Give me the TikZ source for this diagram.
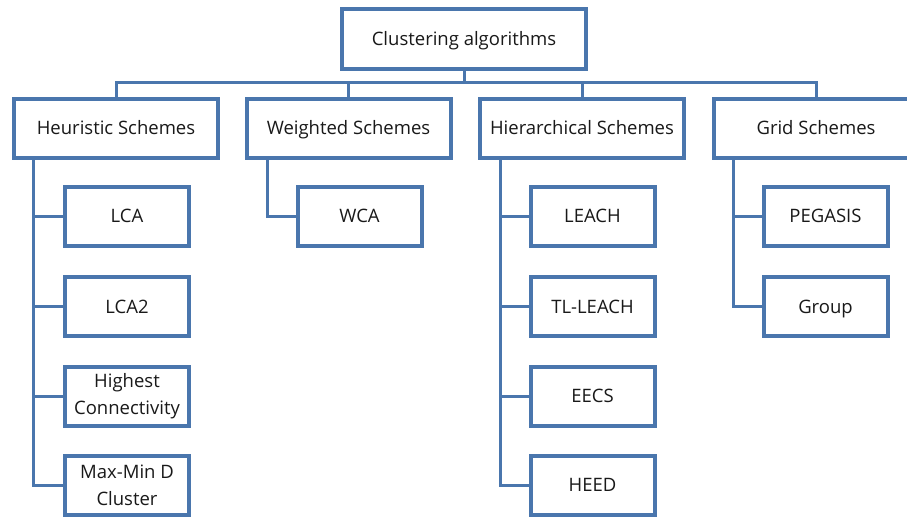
\documentclass[tikz,border=0pt]{standalone}
\usepackage{fontspec}
\setmainfont{Open Sans}
\usetikzlibrary{shadows}
\definecolor{boxblue}{HTML}{4A76AD}
\begin{document}
\begin{tikzpicture}[x=1pt,y=-1pt,
  box/.style={draw=boxblue, line width=4pt, fill=white, align=center,
    font=\fontsize{18.5}{27}\selectfont, inner sep=0pt, text=black!90,
    drop shadow={shadow xshift=1.5pt, shadow yshift=-2pt, opacity=0.25}},
  oneline/.style={text height=13.5pt, text depth=1pt},
  rootbox/.style={box, oneline, minimum width=244pt, minimum height=60pt},
  catbox/.style={box, oneline, minimum width=204pt, minimum height=59pt},
  leafbox/.style={box, minimum width=124pt, minimum height=59pt},
  conn/.style={draw=boxblue, line width=3pt}]
\useasboundingbox (0,0) rectangle (907,518);
\fill[white] (0,0) rectangle (907,518);
\node[rootbox] (root) at (464,39) {Clustering algorithms};
\node[catbox] (heur) at (116,128.5) {Heuristic Schemes};
\node[catbox] (weig) at (348.5,128.5) {Weighted Schemes};
\node[catbox] (hier) at (582,128.5) {Hierarchical Schemes};
\node[catbox] (grid) at (816,128.5) {Grid Schemes};
\node[leafbox, oneline] (lca) at (127,216.5) {LCA};
\node[leafbox, oneline] (lca2) at (127,307) {LCA2};
\node[leafbox] (high) at (127,396) {Highest\\Connectivity};
\node[leafbox] (maxmin) at (127,485) {Max-Min D\\Cluster};
\node[leafbox, oneline] (wca) at (359.5,216.5) {WCA};
\node[leafbox, oneline] (leach) at (592.5,216.5) {LEACH};
\node[leafbox, oneline] (tlleach) at (592.5,307) {TL-LEACH};
\node[leafbox, oneline] (eecs) at (592.5,396) {EECS};
\node[leafbox, oneline] (heed) at (592.5,485) {HEED};
\node[leafbox, oneline] (pegasis) at (825.5,216.5) {PEGASIS};
\node[leafbox, oneline] (group) at (825.5,307) {Group};
\foreach \c in {heur,weig,hier,grid}
  \draw[conn] (root.south) -- ++(0,12) -| (\c.north);
\foreach \c in {lca,lca2,high,maxmin}
  \draw[conn] ([xshift=21pt]heur.south west) |- (\c.west);
\draw[conn] ([xshift=23pt]weig.south west) |- (wca.west);
\foreach \c in {leach,tlleach,eecs,heed}
  \draw[conn] ([xshift=22pt]hier.south west) |- (\c.west);
\foreach \c in {pegasis,group}
  \draw[conn] ([xshift=21pt]grid.south west) |- (\c.west);
\end{tikzpicture}
\end{document}
